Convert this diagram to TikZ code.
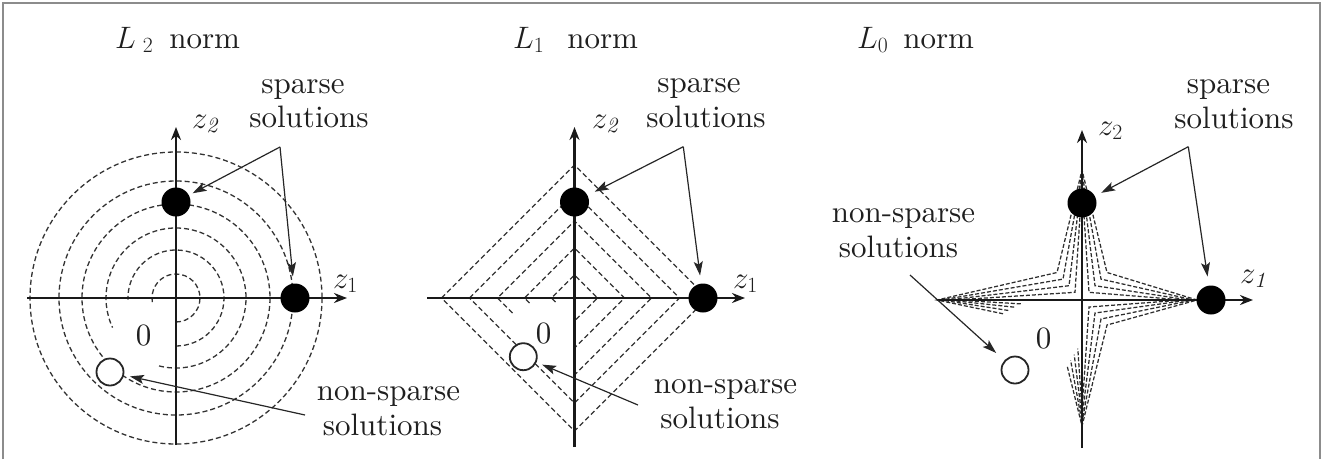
\RequirePackage{fix-cm}
\documentclass[tikz,border=0pt]{standalone}
\usepackage{fontspec}
\setmainfont{lmroman10-regular}[Extension=.otf, ItalicFont=lmroman10-italic]
\usetikzlibrary{arrows.meta,calc}
\begin{document}
\begin{tikzpicture}[x=1pt,y=-1pt,
  every node/.style={font=\fontsize{31}{36}\selectfont, inner sep=0pt, text=black!88},
  axis/.style={line width=2.2pt, black!90, -{Stealth[length=13pt,width=10pt]}},
  contour/.style={line width=1.3pt, dash pattern=on 5pt off 3pt, black!80},
  starline/.style={line width=1.25pt, dash pattern=on 4pt off 2pt, black!82},
  pointer/.style={line width=1.2pt, black!85, -{Stealth[length=14pt,width=9pt,inset=3pt]}},
  sdot/.style={circle, fill=black, minimum size=29pt, inner sep=0pt},
  odot/.style={circle, draw=black!85, line width=1.8pt, fill=white, minimum size=27pt, inner sep=0pt},
  lbl/.style={anchor=base},
  lblw/.style={anchor=base west},
  frame/.style={line width=2pt, black!45}
]
\useasboundingbox (0,0) rectangle (1324,459);
\draw[frame] (3,459) -- (3,3) -- (1320,3) -- (1320,459);

% ---------------- Panel 1: L2 ----------------
\coordinate (O1) at (176,298);
\begin{scope}[shift={(O1)}]
  \foreach \r in {146,117,94} \draw[contour] (0,0) circle[radius=\r];
  \draw[contour] (104:70) arc[start angle=104, end angle=-205, radius=70];
  \draw[contour] (90:48) arc[start angle=90, end angle=-182, radius=48];
  \draw[contour] (90:24) arc[start angle=90, end angle=-190, radius=24];
\end{scope}
\coordinate (x1s) at (27,298);  \coordinate (x1e) at (347,298);
\coordinate (y1s) at (176,445); \coordinate (y1e) at (176,127);
\draw[axis] (x1s) -- (x1e);
\draw[axis] (y1s) -- (y1e);
\node[sdot] (s1a) at (176,202) {};
\node[sdot] (s1b) at (295,298) {};
\node[odot] (n1) at (110,372) {};
\node[lblw] (t1) at (115,48) {$L_{\kern7pt 2}$\kern16pt norm};
\node[lbl] (sp1) at (303,93) {sparse};
\node[lbl] (so1) at (309,127) {solutions};
\node[lblw] (z21) at (192,128) {$z_{\mathit{2}}$};
\node[lblw] (z11) at (333,288) {$z_1$};
\node[lbl] (o1) at (143.5,345) {0};
\node[lbl] (ns1) at (388.5,400) {non-sparse};
\node[lbl] (nso1) at (382.5,435) {solutions};
\coordinate (ap1) at (280,147);
\coordinate (nf1) at (305,415);
\draw[pointer, shorten >=4pt] (ap1) -- (s1a);
\draw[pointer, shorten >=7pt] (ap1) -- (s1b);
\draw[pointer, shorten >=6pt] (nf1) -- (n1);

% ---------------- Panel 2: L1 ----------------
\coordinate (O2) at (574.5,298);
\begin{scope}[shift={(O2)}]
  \foreach \r in {133,105}
    \draw[contour] (-\r,0) -- (0,-\r) -- (\r,0) -- (0,\r) -- cycle;
  \foreach \r/\s in {77/15,50/5,23/4}
    \draw[contour] ({-\r+\s},\s) -- (-\r,0) -- (0,-\r) -- (\r,0) -- (0,\r);
\end{scope}
\coordinate (x2s) at (427,298);  \coordinate (x2e) at (745,298);
\coordinate (y2s) at (574.5,447); \coordinate (y2e) at (574.5,127);
\draw[axis] (x2s) -- (x2e);
\draw[axis] (y2s) -- (y2e);
\node[sdot] (s2a) at (574.5,202) {};
\node[sdot] (s2b) at (703,298) {};
\node[odot] (n2) at (523.3,356.7) {};
\node[lblw] (t2) at (513,48) {$L_1$\kern23pt norm};
\node[lbl] (sp2) at (699,92) {sparse};
\node[lbl] (so2) at (706,127) {solutions};
\node[lblw] (z22) at (592,128) {$z_{\mathit{2}}$};
\node[lblw] (z12) at (733,288) {$z_1$};
\node[lbl] (o2) at (543.5,343) {0};
\node[lbl] (ns2) at (725.5,393) {non-sparse};
\node[lbl] (nso2) at (720,428) {solutions};
\coordinate (ap2) at (683.3,146.7);
\coordinate (nf2) at (638,405);
\draw[pointer, shorten >=8pt] (ap2) -- (s2a);
\draw[pointer, shorten >=8pt] (ap2) -- (s2b);
\draw[pointer, shorten >=6pt] (nf2) -- (n2);

% ---------------- Panel 3: L0 ----------------
\coordinate (O3) at (1082,300);
\begin{scope}[shift={(O3)}]
  \foreach \c/\m in {25/1,19/0.97,13/0.93,7/0.88}
    \draw[starline]
      ({-145*\m+0.55*(145*\m-\c)},{0.55*\c}) -- ({-145*\m},0)
      -- ({-\c},{-1.1*\c}) -- (0,{-130*\m}) -- ({\c},{-1.1*\c})
      -- ({115*\m},0) -- ({\c},{\c}) -- (0,{126*\m})
      -- ({-0.6*\c},{50.4*\m+0.6*\c});
\end{scope}
\coordinate (x3s) at (937,300);  \coordinate (x3e) at (1253,300);
\coordinate (y3s) at (1082,448); \coordinate (y3e) at (1082,130);
\draw[axis] (x3s) -- (x3e);
\draw[axis] (y3s) -- (y3e);
\node[sdot] (s3a) at (1082,203) {};
\node[sdot] (s3b) at (1211,300) {};
\node[odot] (n3) at (1015,370) {};
\node[lblw] (t3) at (857,48) {$L_0$\kern15pt norm};
\node[lbl] (sp3) at (1228.5,93) {sparse};
\node[lbl] (so3) at (1234,128) {solutions};
\node[lblw] (z23) at (1098,135) {$z_2$};
\node[lblw] (z13) at (1240,283) {$z_{\mathit{1}}$};
\node[lbl] (o3) at (1043.5,348) {0};
\node[lbl] (ns3) at (903.5,222) {non-sparse};
\node[lbl] (nso3) at (898.5,257) {solutions};
\coordinate (ap3) at (1188.3,146.7);
\coordinate (nf3) at (910,275);
\draw[pointer, shorten >=7pt] (ap3) -- (s3a);
\draw[pointer, shorten >=9pt] (ap3) -- (s3b);
\draw[pointer, shorten >=11pt] (nf3) -- (n3);
\end{tikzpicture}
\end{document}
